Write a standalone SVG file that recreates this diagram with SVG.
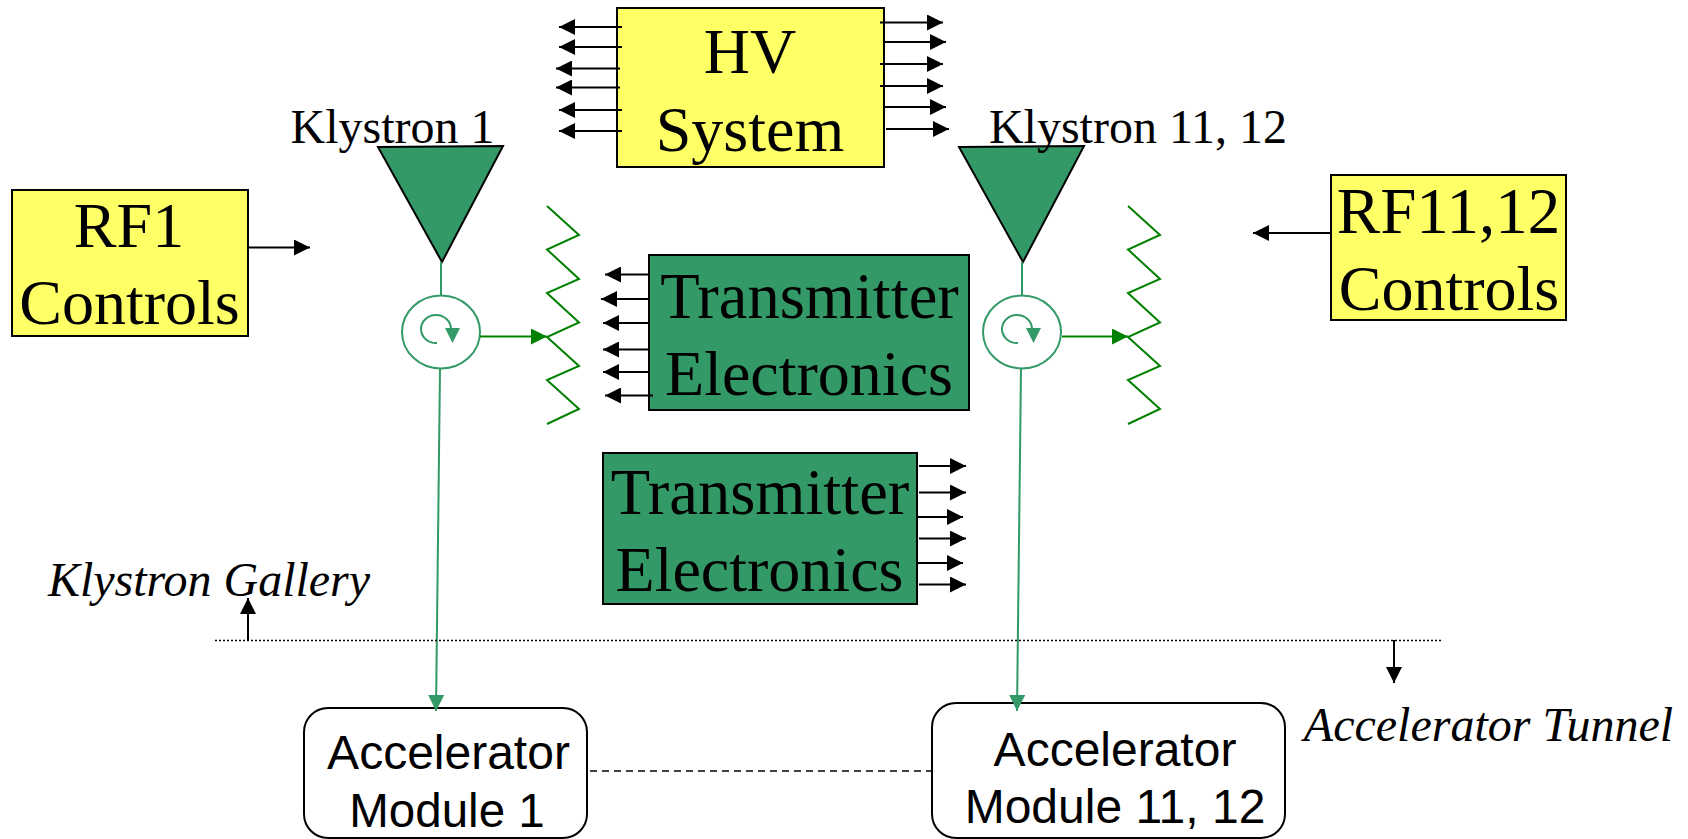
<svg xmlns="http://www.w3.org/2000/svg" width="1688" height="839" viewBox="0 0 1688 839">
<style>
.t{font-family:"Liberation Serif",serif;fill:#000;text-anchor:middle}
.s{font-family:"Liberation Sans",sans-serif;fill:#000;text-anchor:middle;font-size:48px}
.big{font-size:64px}
.box{stroke:#000;stroke-width:2}
.k{fill:none;stroke:#000;stroke-width:2}
.g{fill:none;stroke:#339966;stroke-width:2}
.d{fill:none;stroke:#008000;stroke-width:2}
</style>
<defs>
<marker id="ab" markerUnits="userSpaceOnUse" markerWidth="16" markerHeight="16" refX="16" refY="8" orient="auto"><path d="M0 0L16 8L0 16Z" fill="#000"/></marker>
<marker id="ag" markerUnits="userSpaceOnUse" markerWidth="16" markerHeight="16" refX="16" refY="8" orient="auto"><path d="M0 0L16 8L0 16Z" fill="#339966"/></marker>
<marker id="ad" markerUnits="userSpaceOnUse" markerWidth="16" markerHeight="16" refX="16" refY="8" orient="auto"><path d="M0 0L16 8L0 16Z" fill="#008000"/></marker>
</defs>
<g id="hv-system"><rect class="box" x="617" y="8" width="267" height="159" fill="#ffff66"/><text class="t big" x="750" y="73">HV</text><text class="t big" x="750" y="150.500">System</text></g>
<g id="rf1-controls"><rect class="box" x="12" y="190" width="236" height="146" fill="#ffff66"/><text class="t big" x="129" y="247">RF1</text><text class="t big" x="129.500" y="324">Controls</text></g>
<g id="rf11-controls"><rect class="box" x="1331" y="175" width="235" height="145" fill="#ffff66"/><text class="t" style="font-size:65px" x="1448.500" y="233">RF11,12</text><text class="t big" x="1449" y="310">Controls</text></g>
<g id="transmitter-1"><rect class="box" x="649" y="255" width="320" height="155" fill="#339966"/><text class="t" style="font-size:64.500px" x="809.500" y="318">Transmitter</text><text class="t big" x="809" y="395">Electronics</text></g>
<g id="transmitter-2"><rect class="box" x="603" y="453" width="314" height="151" fill="#339966"/><text class="t" style="font-size:64.500px" x="760" y="514">Transmitter</text><text class="t big" x="759.500" y="591">Electronics</text></g>
<g id="klystron-1"><path class="box" d="M378 147L503 146L442 262Z" fill="#339966"/><text class="t" font-size="48" x="392.500" y="143">Klystron 1</text></g>
<g id="klystron-11-12"><path class="box" d="M959 147L1084 146L1023 262Z" fill="#339966"/><text class="t" font-size="48" x="1138" y="143">Klystron 11, 12</text></g>
<g id="circulator-1"><ellipse class="g" cx="441" cy="332" rx="39" ry="36.5" fill="#fff"/><path class="g" d="M437 343A15 14 0 1 1 451 329"/><path d="M445 328H460L452.500 343Z" fill="#339966"/></g>
<g id="circulator-2"><ellipse class="g" cx="1022" cy="332" rx="39" ry="36.5" fill="#fff"/><path class="g" d="M1018 343A15 14 0 1 1 1032 329"/><path d="M1026 328H1041L1033.500 343Z" fill="#339966"/></g>
<g id="load-1"><path class="d" d="M547 206L579 235L547 249.500L579 279L547 293L579 322.500L547 337L579 366L547 380L579 409L547 424"/></g>
<g id="load-2"><path class="d" d="M1128 206L1160 235L1128 249.500L1160 279L1128 293L1160 322.500L1128 337L1160 366L1128 380L1160 409L1128 424"/></g>
<g id="module-1"><rect class="k" x="304" y="708" width="283" height="130" rx="24" fill="#fff"/><text class="s" x="448.500" y="769">Accelerator</text><text class="s" style="font-size:47.500px" x="447" y="827">Module 1</text></g>
<g id="module-11-12"><rect class="k" x="932" y="703" width="353" height="135" rx="24" fill="#fff"/><text class="s" x="1115" y="766">Accelerator</text><text class="s" x="1115" y="823">Module 11, 12</text></g>
<g id="labels"><text class="t" font-size="48" font-style="italic" x="209" y="596">Klystron Gallery</text><text class="t" font-size="48" font-style="italic" x="1488.500" y="741">Accelerator Tunnel</text></g>
<g id="connectors">
<path class="k" marker-end="url(#ab)" d="M622 27H559"/><path class="k" marker-end="url(#ab)" d="M622 47H559"/><path class="k" marker-end="url(#ab)" d="M620 68.500H556"/><path class="k" marker-end="url(#ab)" d="M620 87.500H556"/><path class="k" marker-end="url(#ab)" d="M622 110H559"/><path class="k" marker-end="url(#ab)" d="M622 131H559"/>
<path class="k" marker-end="url(#ab)" d="M880 22.500H943"/><path class="k" marker-end="url(#ab)" d="M884 42H946"/><path class="k" marker-end="url(#ab)" d="M880 64H943"/><path class="k" marker-end="url(#ab)" d="M880 86H943"/><path class="k" marker-end="url(#ab)" d="M884 107H946"/><path class="k" marker-end="url(#ab)" d="M886 129H949"/>
<path class="k" marker-end="url(#ab)" d="M649 274.500H605"/><path class="k" marker-end="url(#ab)" d="M648 299H601"/><path class="k" marker-end="url(#ab)" d="M650 323H603"/><path class="k" marker-end="url(#ab)" d="M650 349.500H603"/><path class="k" marker-end="url(#ab)" d="M650 372H603"/><path class="k" marker-end="url(#ab)" d="M653 395.500H605"/>
<path class="k" marker-end="url(#ab)" d="M919 466H966"/><path class="k" marker-end="url(#ab)" d="M919 492.500H966"/><path class="k" marker-end="url(#ab)" d="M917 517H963"/><path class="k" marker-end="url(#ab)" d="M919 538.500H966"/><path class="k" marker-end="url(#ab)" d="M917 563H963"/><path class="k" marker-end="url(#ab)" d="M919 584.500H966"/>
<path class="k" marker-end="url(#ab)" d="M248 247.500H310"/><path class="k" marker-end="url(#ab)" d="M1331 233H1253"/>
<path class="g" d="M441 262V295"/><path class="g" d="M1022 262V295"/>
<path class="g" marker-end="url(#ag)" d="M440 369L436 711"/><path class="g" marker-end="url(#ag)" d="M1021 369L1017 711"/>
<path class="d" marker-end="url(#ad)" d="M480 336.500H547"/><path class="d" marker-end="url(#ad)" d="M1062 336.500H1128"/>
<path class="k" stroke-dasharray="2 2" style="stroke-width:1.500" d="M215 640.500H1442"/>
<path class="k" marker-end="url(#ab)" d="M248 640V598"/><path class="k" marker-end="url(#ab)" d="M1394 640V683"/>
<path class="k" stroke-dasharray="7 5" style="stroke-width:1.500" d="M590 771H932"/>
</g>
</svg>
